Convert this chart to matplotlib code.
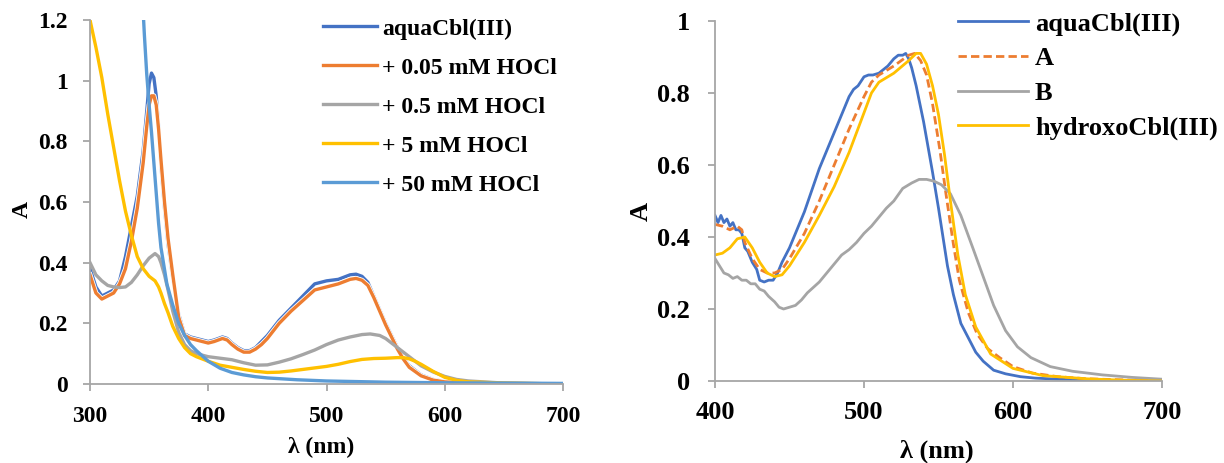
import matplotlib
matplotlib.use("Agg")
import matplotlib.pyplot as plt
import matplotlib.patheffects as pe
from matplotlib.ticker import FixedLocator

# ---------------- Left panel data ----------------
wl_aqua_l = [300, 305, 310, 315, 320, 325, 330, 335, 340, 345, 348, 350, 352, 354, 356, 358, 360, 363, 366, 370, 375,
             380, 385, 390, 395, 400, 405, 412, 416, 420, 425, 430, 435, 440, 445, 450, 460, 470, 480, 490, 500,
             510, 520, 525, 530, 535, 540, 545, 550, 555, 560, 565, 570, 580, 590, 600, 620, 650, 700]
aqua_l = [0.38, 0.32, 0.29, 0.30, 0.31, 0.34, 0.42, 0.52, 0.62, 0.77, 0.90, 0.99, 1.025, 1.01, 0.95, 0.85, 0.72, 0.58, 0.46, 0.35, 0.23,
          0.165, 0.155, 0.15, 0.145, 0.14, 0.145, 0.155, 0.15, 0.135, 0.12, 0.11, 0.11, 0.12, 0.14, 0.16, 0.21, 0.25, 0.29, 0.33, 0.34,
          0.345, 0.36, 0.362, 0.355, 0.335, 0.29, 0.245, 0.20, 0.16, 0.12, 0.085, 0.06, 0.03, 0.015, 0.008, 0.004, 0.002, 0.0]

wl_005 = wl_aqua_l
hocl_005 = [0.36, 0.30, 0.28, 0.29, 0.30, 0.33, 0.38, 0.47, 0.58, 0.73, 0.85, 0.92, 0.95, 0.95, 0.92, 0.84, 0.74, 0.60, 0.48, 0.36, 0.22,
            0.16, 0.15, 0.145, 0.14, 0.135, 0.14, 0.15, 0.145, 0.13, 0.115, 0.105, 0.105, 0.115, 0.13, 0.15, 0.20, 0.24, 0.275, 0.31, 0.32,
            0.33, 0.345, 0.348, 0.342, 0.325, 0.285, 0.24, 0.195, 0.155, 0.115, 0.082, 0.055, 0.027, 0.013, 0.007, 0.003, 0.002, 0.0]

wl_05 = [300, 305, 310, 315, 320, 325, 330, 335, 340, 345, 350, 355, 358, 360, 363, 366, 370, 375, 380, 385, 390, 400,
         410, 420, 430, 440, 450, 460, 470, 480, 490, 500, 510, 520, 530, 537, 545, 550, 555, 560, 570, 580, 590, 600,
         610, 620, 650, 700]
hocl_05 = [0.40, 0.36, 0.34, 0.325, 0.32, 0.318, 0.32, 0.335, 0.36, 0.39, 0.415, 0.43, 0.42, 0.40, 0.36, 0.31, 0.24, 0.17, 0.13, 0.11, 0.10, 0.09,
           0.085, 0.08, 0.07, 0.062, 0.063, 0.072, 0.083, 0.097, 0.112, 0.13, 0.145, 0.155, 0.163, 0.165, 0.16, 0.15, 0.135, 0.12, 0.09, 0.06, 0.04, 0.025,
           0.015, 0.01, 0.003, 0.0]

wl_5 = [300, 305, 310, 315, 320, 325, 330, 335, 340, 345, 350, 355, 358, 360, 363, 366, 370, 375, 380, 385, 390, 400,
        410, 420, 430, 440, 450, 460, 470, 480, 490, 500, 510, 520, 530, 540, 550, 560, 565, 570, 575, 580, 590, 600,
        610, 620, 650, 700]
hocl_5 = [1.20, 1.11, 1.01, 0.89, 0.78, 0.67, 0.57, 0.49, 0.42, 0.38, 0.355, 0.34, 0.32, 0.30, 0.265, 0.235, 0.19, 0.15, 0.12, 0.10, 0.09, 0.075,
          0.062, 0.055, 0.048, 0.042, 0.038, 0.039, 0.043, 0.048, 0.053, 0.058, 0.065, 0.074, 0.081, 0.084, 0.085, 0.087, 0.087, 0.083, 0.075, 0.065, 0.042, 0.022,
          0.012, 0.007, 0.003, 0.0]

wl_50 = [342, 344, 346, 348, 350, 352, 355, 358, 360, 365, 370, 375, 380, 385, 390, 400, 410, 420, 430, 440, 450,
         475, 500, 550, 600, 650, 700]
hocl_50 = [1.45, 1.30, 1.15, 1.02, 0.92, 0.83, 0.68, 0.53, 0.45, 0.33, 0.26, 0.20, 0.16, 0.13, 0.11, 0.075, 0.052, 0.038, 0.030, 0.024, 0.020,
           0.014, 0.010, 0.006, 0.004, 0.003, 0.002]

left_labels = ["aquaCbl(III)", "+ 0.05 mM HOCl", "+ 0.5 mM HOCl", "+ 5 mM HOCl", "+ 50 mM HOCl"]

# ---------------- Right panel data ----------------
wl_aqua_r = [400, 402, 404, 406, 408, 410, 412, 414, 416, 418, 420, 422, 425, 428, 430, 433, 436, 439, 442, 445, 450,
             455, 460, 465, 470, 475, 480, 485, 490, 493, 496, 500, 503, 506, 510, 513, 516, 520, 523, 526, 528,
             530, 532, 535, 537, 540, 543, 546, 550, 553, 556, 560, 565, 570, 575, 580, 587, 595, 605, 615, 630, 650, 675, 700]
aqua_r = [0.46, 0.44, 0.46, 0.44, 0.45, 0.43, 0.44, 0.42, 0.42, 0.41, 0.37, 0.36, 0.33, 0.31, 0.28, 0.275, 0.28, 0.28, 0.30, 0.33, 0.37,
          0.42, 0.47, 0.53, 0.59, 0.64, 0.69, 0.74, 0.79, 0.81, 0.82, 0.845, 0.85, 0.85, 0.855, 0.865, 0.875, 0.895, 0.905, 0.905, 0.91,
          0.895, 0.87, 0.82, 0.78, 0.72, 0.65, 0.58, 0.48, 0.40, 0.32, 0.24, 0.16, 0.12, 0.08, 0.055, 0.03, 0.02, 0.012, 0.008, 0.005, 0.003, 0.001, 0.0]

wl_A = [400, 405, 410, 415, 418, 420, 425, 430, 435, 440, 445, 450, 460, 470, 480, 490, 500, 505, 510, 520, 530,
        534, 538, 542, 546, 551, 555, 560, 564, 570, 576, 583, 591, 600, 613, 630, 650, 675, 700]
A_r = [0.435, 0.43, 0.42, 0.43, 0.42, 0.385, 0.34, 0.31, 0.30, 0.30, 0.31, 0.34, 0.41, 0.50, 0.60, 0.70, 0.79, 0.83, 0.85, 0.875, 0.905,
       0.91, 0.89, 0.85, 0.77, 0.64, 0.52, 0.38, 0.28, 0.19, 0.13, 0.09, 0.065, 0.04, 0.022, 0.012, 0.006, 0.003, 0.0]

wl_B = [400, 403, 406, 409, 412, 415, 418, 421, 424, 427, 430, 433, 436, 440, 443, 446, 450, 454, 458, 462, 466, 470,
        475, 480, 485, 490, 495, 500, 505, 510, 515, 520, 526, 532, 537, 542, 547, 552, 558, 565, 573, 580, 587, 595,
        603, 612, 625, 640, 660, 680, 700]
B_r = [0.34, 0.32, 0.30, 0.295, 0.285, 0.29, 0.28, 0.28, 0.27, 0.27, 0.255, 0.25, 0.235, 0.22, 0.205, 0.2, 0.205, 0.21, 0.225, 0.245, 0.26, 0.275,
       0.30, 0.325, 0.35, 0.365, 0.385, 0.41, 0.43, 0.455, 0.48, 0.50, 0.535, 0.55, 0.56, 0.56, 0.555, 0.545, 0.52, 0.46, 0.37, 0.29, 0.21, 0.14,
       0.095, 0.065, 0.04, 0.027, 0.017, 0.01, 0.005]

wl_hydroxo = [400, 405, 410, 415, 420, 425, 430, 435, 440, 445, 450, 460, 470, 480, 490, 500, 505, 510, 520, 530,
              535, 538, 542, 546, 550, 554, 558, 563, 568, 575, 585, 600, 620, 650, 675, 700]
hydroxo_r = [0.35, 0.355, 0.37, 0.395, 0.40, 0.37, 0.33, 0.30, 0.29, 0.295, 0.32, 0.385, 0.46, 0.54, 0.635, 0.745, 0.80, 0.83, 0.855, 0.89,
             0.91, 0.91, 0.88, 0.82, 0.74, 0.63, 0.50, 0.35, 0.24, 0.15, 0.075, 0.035, 0.015, 0.006, 0.002, 0.0]

right_labels = ["aquaCbl(III)", "A", "B", "hydroxoCbl(III)"]

left_xticks = [300, 400, 500, 600, 700]
left_yticks = [0, 0.2, 0.4, 0.6, 0.8, 1.0, 1.2]
right_xticks = [400, 500, 600, 700]
right_yticks = [0, 0.2, 0.4, 0.6, 0.8, 1.0]

BLUE = "#4472C4"
ORANGE = "#ED7D31"
GRAY = "#A5A5A5"
YELLOW = "#FFC000"
LBLUE = "#5B9BD5"
SPINE = "#A6A6A6"

plt.rcParams['font.family'] = ['Liberation Serif', 'DejaVu Serif']
plt.rcParams['font.weight'] = 'bold'
FS_L = 17
FS_R = 19

fig = plt.figure(figsize=(12.24, 4.63), dpi=100)
axL = fig.add_axes([90/1224, 1-384/463, (563-90)/1224, (384-20)/463])
axR = fig.add_axes([715/1224, 1-381/463, (1162-715)/1224, (381-21)/463])


def fmt(v):
    s = ("%.1f" % v)
    if s.endswith(".0"):
        s = s[:-2]
    return s


def style(ax, xt, yt, xlim, ylim, fs, xpad, ypad):
    ax.set_xlim(*xlim)
    ax.set_ylim(*ylim)
    for s in ["top", "right"]:
        ax.spines[s].set_visible(False)
    for s in ["left", "bottom"]:
        ax.spines[s].set_color(SPINE)
        ax.spines[s].set_linewidth(1.3)
    ax.xaxis.set_major_locator(FixedLocator(xt))
    ax.yaxis.set_major_locator(FixedLocator(yt))
    ax.set_xticklabels([fmt(v) for v in xt], fontsize=fs, fontweight='bold')
    ax.set_yticklabels([fmt(v) for v in yt], fontsize=fs, fontweight='bold')
    ax.tick_params(axis='both', direction='out', length=5, width=1.3, color=SPINE)
    ax.tick_params(axis='x', pad=xpad)
    ax.tick_params(axis='y', pad=ypad)
    ax.patch.set_alpha(0)


lw = 2.4
halo = [pe.Stroke(linewidth=lw + 1.2, foreground='white'), pe.Normal()]
axL.plot(wl_aqua_l, aqua_l, color=BLUE, lw=lw, solid_joinstyle='round', label=left_labels[0], path_effects=halo)
axL.plot(wl_005, hocl_005, color=ORANGE, lw=lw, solid_joinstyle='round', label=left_labels[1], path_effects=halo)
axL.plot(wl_05, hocl_05, color=GRAY, lw=lw, solid_joinstyle='round', label=left_labels[2])
axL.plot(wl_5, hocl_5, color=YELLOW, lw=lw, solid_joinstyle='round', label=left_labels[3])
axL.plot(wl_50, hocl_50, color=LBLUE, lw=lw, solid_joinstyle='round', label=left_labels[4])
style(axL, left_xticks, left_yticks, (300, 700), (0, 1.2), FS_L, 10.5, 11)
axL.set_xlabel("λ (nm)", fontsize=FS_L, fontweight='bold')
axL.set_ylabel("A", fontsize=FS_L, fontweight='bold')
axL.xaxis.set_label_coords((321-90)/473, -(437-384)/364)
axL.xaxis.label.set_va('top')
axL.yaxis.set_label_coords((22-90)/473, 0.48)
axL.yaxis.label.set_va('center')

lw2 = 2.0
axR.plot(wl_aqua_r, aqua_r, color=BLUE, lw=lw2, label=right_labels[0])
axR.plot(wl_A, A_r, color=ORANGE, lw=lw2, ls=(0, (3, 1.5)), label=right_labels[1])
axR.plot(wl_B, B_r, color=GRAY, lw=lw2, label=right_labels[2])
axR.plot(wl_hydroxo, hydroxo_r, color=YELLOW, lw=lw2, label=right_labels[3])
style(axR, right_xticks, right_yticks, (400, 700), (0, 1.0), FS_R, 9.5, 13)
axR.set_xlabel("λ (nm)", fontsize=FS_R, fontweight='bold')
axR.set_ylabel("A", fontsize=FS_R, fontweight='bold')
axR.xaxis.set_label_coords((937-715)/447, -(440-381)/360)
axR.xaxis.label.set_va('top')
axR.yaxis.set_label_coords((641-715)/447, 0.47)
axR.yaxis.label.set_va('center')

legL = fig.legend(handles=axL.get_lines(), labels=left_labels, loc='upper left',
                  bbox_to_anchor=(323/1224, 1-18/463), frameon=False, borderpad=0, borderaxespad=0,
                  handlelength=2.3, handletextpad=0.2, labelspacing=0.74,
                  prop={'size': FS_L, 'weight': 'bold'})
legR = fig.legend(handles=axR.get_lines(), labels=right_labels, loc='upper left',
                  bbox_to_anchor=(958/1224, 1-12/463), frameon=False, borderpad=0, borderaxespad=0,
                  handlelength=2.65, handletextpad=0.27, labelspacing=0.42,
                  prop={'size': FS_R, 'weight': 'bold'})

fig.savefig("out.png", dpi=100)
